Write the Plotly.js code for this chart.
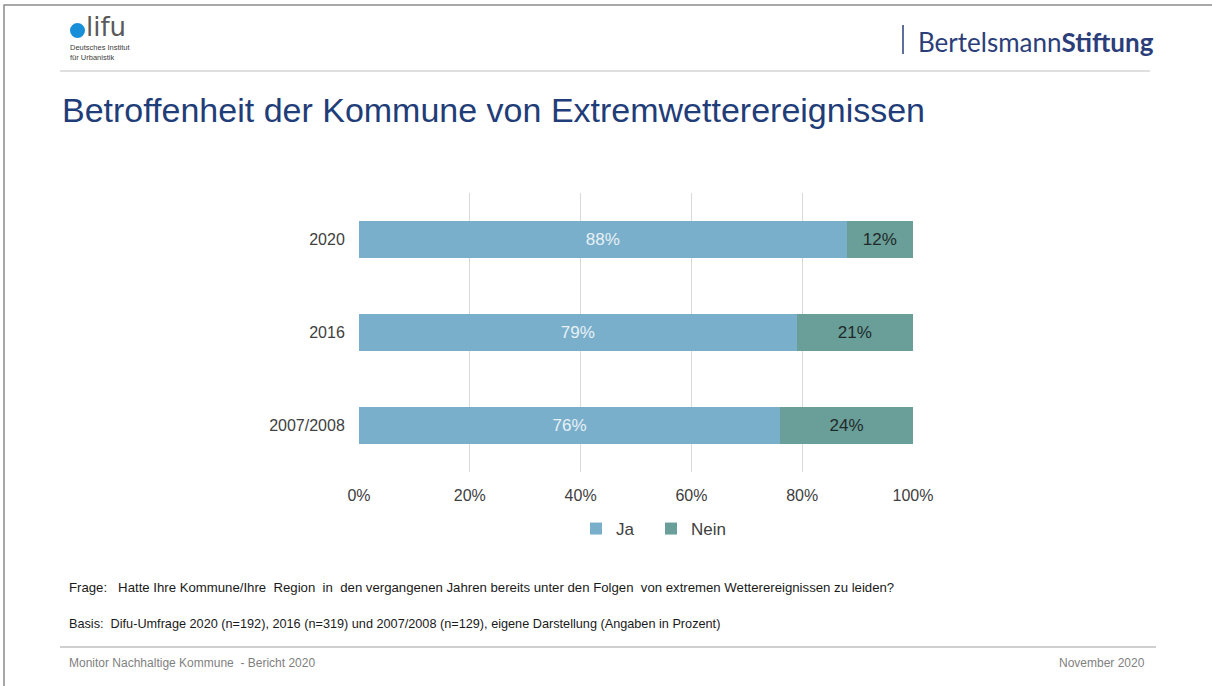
<!DOCTYPE html>
<html>
<head>
<meta charset="utf-8">
<script src="https://cdn.plot.ly/plotly-3.0.1.min.js"></script>
<style>
html,body{margin:0;padding:0;background:#fff;}
#chart{width:1212px;height:686px;}
</style>
</head>
<body>
<div id="chart"></div>
<script>
var categories = ["2007/2008", "2016", "2020"];
var jaValues = [76, 79, 88];
var neinValues = [24, 21, 12];
var seriesNames = ["Ja", "Nein"];
var xTickValues = [0, 20, 40, 60, 80, 100];
var xTickLabels = ["0%", "20%", "40%", "60%", "80%", "100%"];

var font = "Liberation Sans, Arial, sans-serif";
var narrow = "Liberation Sans Narrow, Arial Narrow, Liberation Sans, Arial, sans-serif";

var traces = [
  {
    type: "bar", orientation: "h", name: seriesNames[0],
    y: categories, x: jaValues,
    text: jaValues.map(function(v){return v + "%";}),
    textposition: "inside", insidetextanchor: "middle",
    textfont: {family: font, size: 17, color: "#e8f1f7"},
    marker: {color: "#7aafcb"},
    hoverinfo: "none"
  },
  {
    type: "bar", orientation: "h", name: seriesNames[1],
    y: categories, x: neinValues,
    text: neinValues.map(function(v){return v + "%";}),
    textposition: "inside", insidetextanchor: "middle",
    textfont: {family: font, size: 17, color: "#1e2a2a"},
    marker: {color: "#6a9e98"},
    hoverinfo: "none"
  }
];

var layout = {
  width: 1212, height: 686,
  margin: {l: 0, r: 0, t: 0, b: 0},
  paper_bgcolor: "#ffffff", plot_bgcolor: "rgba(0,0,0,0)",
  barmode: "stack",
  bargap: 0.6,
  showlegend: true,
  legend: {
    orientation: "h", x: 576/1212, xanchor: "left", y: 1 - 529/686, yanchor: "middle",
    font: {family: font, size: 17, color: "#404040"},
    entrywidth: 30, entrywidthmode: "pixels", traceorder: "normal"
  },
  xaxis: {
    domain: [359/1212, 913/1212],
    range: [0, 100],
    tickvals: xTickValues, ticktext: xTickLabels,
    showgrid: true, gridcolor: "#d9d9d9", gridwidth: 1,
    zeroline: false, showline: false,
    tickfont: {family: font, size: 16, color: "#404040"},
    ticks: "outside", ticklen: 9, tickcolor: "rgba(0,0,0,0)",
    anchor: "free", position: 1 - 472/686,
    fixedrange: true
  },
  yaxis: {
    domain: [1 - 472/686, 1 - 193/686],
    range: [-0.5, 2.5],
    type: "category",
    showgrid: false, zeroline: false, showline: false,
    tickfont: {family: font, size: 16, color: "#404040"},
    ticks: "outside", ticklen: 10, tickcolor: "rgba(0,0,0,0)",
    fixedrange: true
  },
  title: {
    text: "Betroffenheit der Kommune von Extremwetterereignissen",
    x: 62/1212, xanchor: "left", xref: "paper",
    y: 1 - 110/686, yanchor: "middle", yref: "paper",
    font: {family: font, size: 34, color: "#1f3d78"}
  },
  shapes: [
    {type: "rect", xref: "paper", yref: "paper", x0: 4/1212, x1: 1.05, y0: -0.05, y1: 1 - 5/686,
     line: {color: "#8c8c8c", width: 1.5}, fillcolor: "rgba(0,0,0,0)"},
    {type: "line", xref: "paper", yref: "paper", x0: 60/1212, x1: 1150/1212, y0: 1 - 71/686, y1: 1 - 71/686,
     line: {color: "#bfbfbf", width: 1}},
    {type: "line", xref: "paper", yref: "paper", x0: 60/1212, x1: 1156/1212, y0: 1 - 647/686, y1: 1 - 647/686,
     line: {color: "#bfbfbf", width: 1.5}},
    {type: "circle", xref: "paper", yref: "paper", x0: 70/1212, x1: 85/1212, y0: 1 - 38/686, y1: 1 - 23/686,
     fillcolor: "#1a8fd9", line: {width: 0}},
    {type: "line", xref: "paper", yref: "paper", x0: 903/1212, x1: 903/1212, y0: 1 - 54/686, y1: 1 - 25/686,
     line: {color: "#2b3e7a", width: 1.5}}
  ],
  annotations: [
    {text: "lifu", xref: "paper", yref: "paper", x: 84/1212, y: 1 - 27/686, xanchor: "left", yanchor: "middle",
     showarrow: false, font: {family: "DejaVu Sans, sans-serif", size: 26, color: "#5a5a5a"}},
    {text: "Deutsches Institut<br>für Urbanistik", xref: "paper", yref: "paper", x: 68/1212, y: 1 - 53/686,
     xanchor: "left", yanchor: "middle", align: "left", showarrow: false,
     font: {family: font, size: 7.5, color: "#404040"}},
    {text: "Bertelsmann<b>Stiftung</b>", xref: "paper", yref: "paper", x: 916/1212, y: 1 - 42/686,
     xanchor: "left", yanchor: "middle", showarrow: false,
     font: {family: "Lato, Open Sans, sans-serif", size: 26, color: "#2b3e7a"}},
    {text: "Frage:\u00a0\u00a0 Hatte Ihre Kommune/Ihre\u00a0 Region\u00a0 in\u00a0 den vergangenen Jahren bereits unter den Folgen\u00a0 von extremen Wetterereignissen zu leiden?",
     xref: "paper", yref: "paper", x: 67/1212, y: 1 - 587/686, xanchor: "left", yanchor: "middle",
     showarrow: false, font: {family: narrow, size: 13.2, color: "#1a1a1a"}},
    {text: "Basis:\u00a0 Difu-Umfrage 2020 (n=192), 2016 (n=319) und 2007/2008 (n=129), eigene Darstellung (Angaben in Prozent)",
     xref: "paper", yref: "paper", x: 67/1212, y: 1 - 624/686, xanchor: "left", yanchor: "middle",
     showarrow: false, font: {family: narrow, size: 12.7, color: "#1a1a1a"}},
    {text: "Monitor Nachhaltige Kommune\u00a0 - Bericht 2020",
     xref: "paper", yref: "paper", x: 67/1212, y: 1 - 663/686, xanchor: "left", yanchor: "middle",
     showarrow: false, font: {family: narrow, size: 12, color: "#7f7f7f"}},
    {text: "November 2020",
     xref: "paper", yref: "paper", x: 1147/1212, y: 1 - 663/686, xanchor: "right", yanchor: "middle",
     showarrow: false, font: {family: narrow, size: 12, color: "#7f7f7f"}}
  ]
};

Plotly.newPlot("chart", traces, layout, {displayModeBar: false, staticPlot: true});
</script>
</body>
</html>
